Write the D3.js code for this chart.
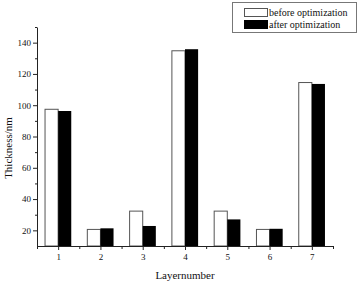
<!DOCTYPE html>
<html>
<head>
<meta charset="utf-8">
<script src="https://cdn.jsdelivr.net/npm/d3@7"></script>
<style>
  body { margin: 0; background: #fff; }
  svg text { font-family: "Liberation Serif", "Times New Roman", serif; fill: #111; }
  .axis path, .axis line { stroke: #222; }
</style>
</head>
<body>
<div id="chart"></div>
<script>
// Chart data
const layers = [1, 2, 3, 4, 5, 6, 7];
const beforeOpt = [97.4, 20.6, 32.3, 134.8, 32.3, 20.6, 114.5];
const afterOpt = [96.3, 21.3, 22.8, 135.8, 27.0, 21.0, 113.6];
const seriesNames = ['before optimization', 'after optimization'];
const yMajorTicks = [20, 40, 60, 80, 100, 120, 140];
const yMinorTicks = [30, 50, 70, 90, 110, 130, 150];

const W = 359, H = 284;
const margin = {top: 27, right: 26, bottom: 38, left: 37};

const svg = d3.select('#chart').append('svg')
    .attr('width', W)
    .attr('height', H);

const x = d3.scaleLinear()
    .domain([0.5, 7.5])
    .range([margin.left, W - margin.right]);

const y = d3.scaleLinear()
    .domain([10, 150])
    .range([H - margin.bottom, margin.top]);

const barW = 0.31; // in category units

// Bars - before (white, outlined)
svg.selectAll('.bar-before')
    .data(layers)
    .enter()
    .append('rect')
    .attr('class', 'bar-before')
    .attr('x', (d, i) => x(d - barW))
    .attr('y', (d, i) => y(beforeOpt[i]))
    .attr('width', x(barW) - x(0))
    .attr('height', (d, i) => y(10) - y(beforeOpt[i]))
    .attr('fill', '#fff')
    .attr('stroke', '#555')
    .attr('stroke-width', 1);

// Bars - after (black)
svg.selectAll('.bar-after')
    .data(layers)
    .enter()
    .append('rect')
    .attr('class', 'bar-after')
    .attr('x', d => x(d))
    .attr('y', (d, i) => y(afterOpt[i]))
    .attr('width', x(barW) - x(0))
    .attr('height', (d, i) => y(10) - y(afterOpt[i]))
    .attr('fill', '#000');

// Y axis minor ticks
svg.append('g')
    .attr('class', 'axis')
    .attr('transform', `translate(${margin.left},0)`)
    .call(d3.axisLeft(y).tickValues(yMinorTicks).tickSize(2).tickFormat(''))
    .select('.domain').remove();

// Y axis major ticks
const yAxis = svg.append('g')
    .attr('class', 'axis')
    .attr('transform', `translate(${margin.left},0)`)
    .call(d3.axisLeft(y).tickValues(yMajorTicks).tickSize(4).tickSizeOuter(0).tickPadding(2));
yAxis.selectAll('text').style('font-size', '9px');

// X axis minor ticks
svg.append('g')
    .attr('class', 'axis')
    .attr('transform', `translate(0,${y(10)})`)
    .call(d3.axisBottom(x).tickValues(d3.range(0.5, 8, 1)).tickSize(3).tickFormat(''))
    .select('.domain').remove();

// X axis major ticks
const xAxis = svg.append('g')
    .attr('class', 'axis')
    .attr('transform', `translate(0,${y(10)})`)
    .call(d3.axisBottom(x).tickValues(layers).tickSize(4).tickSizeOuter(0).tickFormat(d3.format('d')).tickPadding(4));
xAxis.selectAll('text').style('font-size', '9px');

// Axis titles
svg.append('text')
    .attr('x', (x.range()[0] + x.range()[1]) / 2)
    .attr('y', 279)
    .attr('text-anchor', 'middle')
    .style('font-size', '11px')
    .text('Layernumber');

svg.append('text')
    .attr('transform', `translate(12,148) rotate(-90)`)
    .attr('text-anchor', 'middle')
    .style('font-size', '11px')
    .text('Thickness/nm');

// Legend
const legend = svg.append('g').attr('transform', 'translate(232,2)');
legend.append('rect')
    .attr('x', 0.5).attr('y', 0.5)
    .attr('width', 124).attr('height', 30)
    .attr('fill', '#fff')
    .attr('stroke', '#777');

[0, 1].forEach(i => {
    legend.append('rect')
        .attr('x', 12.5)
        .attr('y', 6.5 + i * 12)
        .attr('width', 23)
        .attr('height', 8)
        .attr('fill', i === 0 ? '#fff' : '#000')
        .attr('stroke', i === 0 ? '#555' : '#000');
    legend.append('text')
        .attr('x', 37)
        .attr('y', 14 + i * 12)
        .style('font-size', '10px')
        .text(seriesNames[i]);
});
</script>
</body>
</html>
